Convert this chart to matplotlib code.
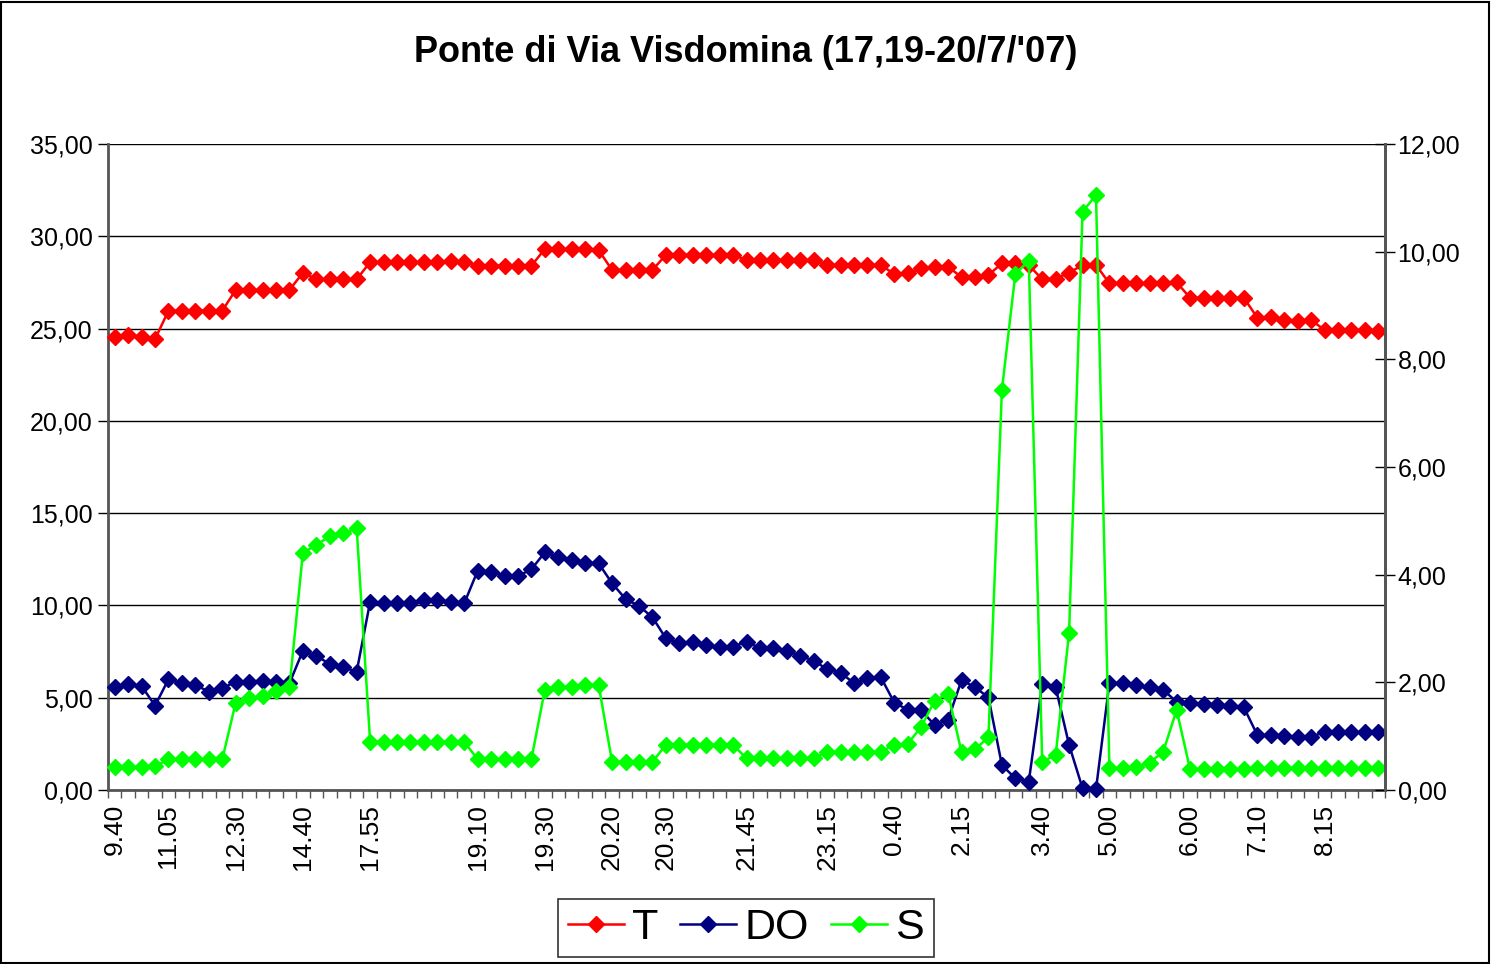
import matplotlib
matplotlib.use('Agg')
import matplotlib.pyplot as plt
from matplotlib.ticker import FuncFormatter, MultipleLocator, FixedLocator
from matplotlib.patches import Rectangle

# category labels (times); most cells are blank in the source sheet
times = [''] * 95
label_times = {0: '9.40', 4: '11.05', 9: '12.30', 14: '14.40', 19: '17.55',
               27: '19.10', 32: '19.30', 37: '20.20', 41: '20.30', 47: '21.45',
               53: '23.15', 58: '0.40', 63: '2.15', 69: '3.40', 74: '5.00',
               80: '6.00', 85: '7.10', 90: '8.15'}
for k, v in label_times.items():
    times[k] = v

T = [24.53, 24.65, 24.56, 24.43,
     25.97, 25.97, 25.97, 25.97, 25.97,
     27.09, 27.09, 27.09, 27.09, 27.09,
     28.03, 27.67, 27.67, 27.67, 27.67,
     28.60, 28.60, 28.60, 28.60, 28.60, 28.60, 28.65, 28.60,
     28.41, 28.41, 28.41, 28.41, 28.41,
     29.31, 29.31, 29.31, 29.31, 29.25,
     28.17, 28.17, 28.17, 28.17,
     28.99, 28.99, 28.99, 28.99, 28.99, 28.99,
     28.72, 28.72, 28.72, 28.72, 28.72, 28.72,
     28.45, 28.45, 28.45, 28.45, 28.45,
     27.94, 27.99, 28.26, 28.35, 28.35,
     27.78, 27.78, 27.90, 28.53, 28.53, 28.44,
     27.67, 27.70, 28.03, 28.44, 28.44,
     27.45, 27.45, 27.45, 27.45, 27.45, 27.50,
     26.67, 26.67, 26.67, 26.67, 26.67,
     25.59, 25.65, 25.47, 25.43, 25.47,
     24.92, 24.90, 24.90, 24.90, 24.87]

DO = [5.60, 5.74, 5.63, 4.57,
      6.00, 5.78, 5.69, 5.33, 5.51,
      5.87, 5.87, 5.92, 5.87, 5.78,
      7.55, 7.26, 6.83, 6.65, 6.41,
      10.20, 10.11, 10.15, 10.15, 10.29, 10.29, 10.20, 10.11,
      11.88, 11.83, 11.59, 11.59, 11.96,
      12.88, 12.61, 12.46, 12.32, 12.28,
      11.20, 10.35, 9.97, 9.36,
      8.22, 7.95, 8.04, 7.86, 7.73, 7.77,
      8.04, 7.68, 7.68, 7.55, 7.26, 7.01,
      6.54, 6.36, 5.78, 6.05, 6.10,
      4.73, 4.35, 4.31, 3.52, 3.81,
      5.96, 5.56, 5.02, 1.35, 0.63, 0.45,
      5.74, 5.56, 2.44, 0.09, 0.04,
      5.81, 5.78, 5.69, 5.56, 5.42, 4.78,
      4.70, 4.66, 4.61, 4.55, 4.48,
      2.98, 2.98, 2.93, 2.86, 2.86,
      3.16, 3.13, 3.13, 3.13, 3.13]

S = [1.26, 1.26, 1.24, 1.28,
     1.66, 1.66, 1.66, 1.66, 1.66,
     4.73, 4.97, 5.09, 5.38, 5.56,
     12.86, 13.27, 13.76, 13.90, 14.18,
     2.62, 2.62, 2.62, 2.62, 2.62, 2.62, 2.62, 2.62,
     1.66, 1.66, 1.66, 1.66, 1.68,
     5.44, 5.60, 5.60, 5.69, 5.69,
     1.53, 1.53, 1.53, 1.53,
     2.44, 2.44, 2.44, 2.44, 2.44, 2.44,
     1.72, 1.72, 1.72, 1.72, 1.72, 1.72,
     2.08, 2.08, 2.08, 2.08, 2.08,
     2.44, 2.51, 3.43, 4.84, 5.22,
     2.04, 2.20, 2.86, 21.67, 27.96, 28.68,
     1.53, 1.90, 8.52, 31.33, 32.24,
     1.17, 1.17, 1.26, 1.48, 2.08, 4.33,
     1.12, 1.12, 1.12, 1.12, 1.12,
     1.17, 1.17, 1.17, 1.17, 1.17, 1.17, 1.17, 1.17, 1.17, 1.17]

series = [('T', T, '#FF0000'), ('DO', DO, '#000080'), ('S', S, '#00FF00')]

plt.rcParams['font.family'] = ['Liberation Sans', 'DejaVu Sans']

fig = plt.figure(figsize=(14.92, 9.64), dpi=100)
ax = fig.add_axes([108 / 1492, 1 - 790 / 964, 1277 / 1492, 646 / 964])
x = list(range(len(times)))

lines = []
for name, vals, col in series:
    ln, = ax.plot(x, vals, color=col, lw=1.8, marker='D', ms=8.5,
                  mec=col, mfc=col, label=name, clip_on=False, zorder=3)
    lines.append(ln)

comma = FuncFormatter(lambda v, p: f'{v:.2f}'.replace('.', ','))

ax.set_xlim(-0.5, len(times) - 0.5)
ax.set_ylim(0, 35)
ax.yaxis.set_major_locator(MultipleLocator(5))
ax.yaxis.set_major_formatter(comma)
ax.grid(axis='y', color='black', lw=1.0)
ax.set_axisbelow(True)

# category boundaries as tick marks, labels at category centres
ax.xaxis.set_major_locator(FixedLocator([i - 0.5 for i in range(len(times) + 1)]))
ax.xaxis.set_major_formatter(FuncFormatter(lambda v, p: ''))
ax.xaxis.set_minor_locator(FixedLocator(x))
ax.set_xticklabels(times, minor=True, rotation=90, fontsize=19, va='top')
ax.tick_params(axis='x', which='major', direction='out', length=6, width=1, color='#555555')
ax.tick_params(axis='x', which='minor', length=0, pad=10)
ax.tick_params(axis='y', direction='out', length=7, width=1, labelsize=18, pad=4)

ax.spines['top'].set_visible(False)
for side in ['left', 'bottom', 'right']:
    ax.spines[side].set_color('#555555')
    ax.spines[side].set_linewidth(2)

ax2 = ax.twinx()
ax2.set_ylim(0, 12)
ax2.yaxis.set_major_locator(MultipleLocator(2))
ax2.yaxis.set_major_formatter(comma)
ax2.tick_params(axis='y', direction='inout', length=14, width=1, labelsize=18, pad=2)
for side in ['top', 'left', 'bottom']:
    ax2.spines[side].set_visible(False)
ax2.spines['right'].set_color('#555555')
ax2.spines['right'].set_linewidth(2)

fig.text(0.5, 1 - 53 / 964, "Ponte di Via Visdomina (17,19-20/7/'07)",
         ha='center', va='center', fontsize=26, fontweight='bold',
         family=['Liberation Sans Narrow', 'Liberation Sans', 'DejaVu Sans'])

leg = fig.legend(lines, [s[0] for s in series], loc='center', ncol=3,
                 bbox_to_anchor=(746 / 1492, 1 - 928 / 964), fontsize=31,
                 frameon=True, fancybox=False, handlelength=1.3,
                 handletextpad=0.2, columnspacing=0.5, borderpad=0.22,
                 borderaxespad=0.0, markerscale=0.9)
leg.get_frame().set_edgecolor('black')
leg.get_frame().set_linewidth(1.2)

# outer chart border
fig.patches.append(Rectangle((0.001, 0.001), 0.997, 0.997, transform=fig.transFigure,
                             fill=False, edgecolor='black', lw=1.5))

fig.savefig('out.png', dpi=100)
